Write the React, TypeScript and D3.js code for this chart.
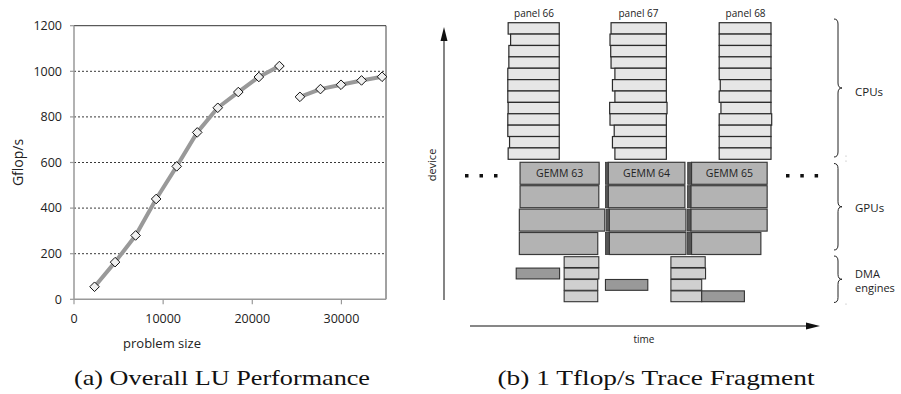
import React from 'react'
import * as d3 from 'd3'

// (a) LU performance: problem size vs Gflop/s, two runs
const sizesA = [2304, 4608, 6912, 9216, 11520, 13824, 16128, 18432, 20736, 23040]
const gflopsA = [55, 163, 280, 440, 583, 732, 840, 909, 975, 1023]
const sizesB = [25344, 27648, 29952, 32256, 34560]
const gflopsB = [888, 922, 941, 960, 976]
const yTicks = [0, 200, 400, 600, 800, 1000, 1200]
const xTicks = [0, 10000, 20000, 30000]

// (b) trace fragment, time in arbitrary units (0..100)
const panelNames = ['panel 66', 'panel 67', 'panel 68']
const cpuStarts = [
    [10.9, 11.6, 11.1, 11.1, 10.8, 10.8, 10.8, 10.9, 10.8, 10.8, 11.3, 10.9],
    [40.3, 40.0, 40.2, 40.3, 41.4, 40.7, 41.4, 39.9, 40.0, 41.2, 40.7, 41.4],
    [71.2, 71.2, 71.2, 71.2, 71.2, 71.5, 71.2, 71.7, 71.2, 71.2, 71.2, 71.2],
]
const cpuEnds = [
    [25.5, 25.5, 25.5, 25.5, 25.5, 25.5, 25.5, 25.5, 25.5, 25.5, 25.5, 25.5],
    [56.1, 56.1, 56.1, 56.1, 56.1, 56.1, 56.1, 56.3, 56.1, 56.1, 56.1, 56.1],
    [86.0, 86.0, 86.0, 86.0, 86.0, 86.0, 86.0, 86.0, 86.2, 86.0, 86.0, 86.0],
]
const gemmNames = ['GEMM 63', 'GEMM 64', 'GEMM 65']
// per GPU row: [start, end] for each GEMM
const gemmSpans = [
    [[14.3, 36.9], [39.5, 61.4], [63.3, 84.9]],
    [[14.3, 36.8], [39.5, 61.4], [63.1, 84.9]],
    [[14.1, 38.5], [39.8, 61.7], [63.1, 84.9]],
    [[14.1, 36.5], [39.8, 61.7], [63.3, 83.1]],
]
// short kernels before GEMM 64 / 65
const smallSpans = [
    [[38.7, 39.5], [62.2, 63.3]],
    [[38.7, 39.5], [62.1, 63.1]],
    [[38.9, 39.8], [62.1, 63.1]],
    [[38.7, 39.8], [62.1, 63.3]],
]
// DMA engines: light transfers and dark transfers, [row, start, end]
const dmaLight = [
    [0, 26.9, 36.8], [1, 26.9, 36.8], [2, 26.9, 36.5], [3, 26.9, 36.5],
    [0, 57.4, 67.2], [1, 57.4, 67.3], [2, 57.4, 66.2], [3, 57.4, 66.2],
]
const dmaDark = [
    [1, 13.2, 25.6], [2, 38.7, 50.8], [3, 66.2, 78.4],
]

const sans = "'Open Sans', 'DejaVu Sans', sans-serif"
const serif = "'Liberation Serif', 'DejaVu Serif', serif"

const bracePath = (x: number, y0: number, y1: number) => {
    const h = 4
    const w = 8
    const r = 5
    const ym = (y0 + y1) / 2
    return `M${x},${y0} Q${x + h},${y0} ${x + h},${y0 + r} L${x + h},${ym - r} Q${x + h},${ym} ${x + w},${ym} Q${x + h},${ym} ${x + h},${ym + r} L${x + h},${y1 - r} Q${x + h},${y1} ${x},${y1}`
}

const App: React.FC = () => {
    // ---- left chart scales
    const x = d3.scaleLinear().domain([0, 35000]).range([74, 386])
    const y = d3.scaleLinear().domain([0, 1200]).range([299.3, 25.7])
    const line = d3
        .line<[number, number]>()
        .x((d) => x(d[0]))
        .y((d) => y(d[1]))
    const serA = sizesA.map((s, i) => [s, gflopsA[i]] as [number, number])
    const serB = sizesB.map((s, i) => [s, gflopsB[i]] as [number, number])
    const diamond = (cx: number, cy: number, r = 4.8) =>
        `M${cx},${cy - r} L${cx + r},${cy} L${cx},${cy + r} L${cx - r},${cy} Z`

    // ---- right chart scales
    const t = d3.scaleLinear().domain([0, 100]).range([470, 820])
    const cpuBand = d3.scaleBand<number>().domain(d3.range(12)).range([22.7, 159.3])
    const gpuBand = d3.scaleBand<number>().domain(d3.range(4)).range([162.3, 254.5]).paddingInner(0.06)
    const dmaBand = d3.scaleBand<number>().domain(d3.range(4)).range([256.7, 301.7]).paddingInner(0.05)

    return (
        <svg
            width={901}
            height={394}
            style={{ position: 'absolute', left: 0, top: 0, background: '#fff' }}
        >
            {/* ================= (a) ================= */}
            <g>
                {yTicks.slice(1, -1).map((v) => (
                    <line key={v} x1={x(0)} x2={x(35000)} y1={y(v)} y2={y(v)}
                        stroke="#222" strokeWidth={0.9} strokeDasharray="2,2" />
                ))}
                {/* frame */}
                <line x1={x(0)} x2={x(35000)} y1={y(1200)} y2={y(1200)} stroke="#333" strokeWidth={1} />
                <line x1={x(35000)} x2={x(35000)} y1={y(1200)} y2={y(0)} stroke="#444" strokeWidth={1} />
                <line x1={x(0)} x2={x(0)} y1={y(1200)} y2={y(0)} stroke="#999" strokeWidth={1.5} />
                <line x1={x(0)} x2={x(35000)} y1={y(0)} y2={y(0)} stroke="#999" strokeWidth={1.5} />
                {yTicks.map((v) => (
                    <g key={v}>
                        <line x1={x(0) - 4} x2={x(0)} y1={y(v)} y2={y(v)} stroke="#999" strokeWidth={1.2} />
                        <text x={62} y={y(v)} dy="0.35em" textAnchor="end" fontFamily={sans} fontSize={12.5} fill="#222">{v}</text>
                    </g>
                ))}
                {xTicks.map((v) => (
                    <g key={v}>
                        <line x1={x(v)} x2={x(v)} y1={y(0)} y2={y(0) + 5} stroke="#999" strokeWidth={1.2} />
                        <text x={x(v)} y={319} dy="0.35em" textAnchor="middle" fontFamily={sans} fontSize={12.5} fill="#222">{v}</text>
                    </g>
                ))}
                <text transform={`translate(18,${y(600)}) rotate(-90)`} dy="0.35em" textAnchor="middle" fontFamily={sans} fontSize={14} fill="#222">Gflop/s</text>
                <text x={162} y={343} dy="0.35em" textAnchor="middle" fontFamily={sans} fontSize={13} fill="#222">problem size</text>

                <path d={line(serA) ?? ''} fill="none" stroke="#999" strokeWidth={4} strokeLinejoin="round" />
                <path d={line(serB) ?? ''} fill="none" stroke="#999" strokeWidth={4} strokeLinejoin="round" />
                {[...serA, ...serB].map((d, i) => (
                    <path key={i} d={diamond(x(d[0]), y(d[1]))} fill="#f0f0f0" stroke="#111" strokeWidth={1} />
                ))}
            </g>
            <text x={222} y={385} textAnchor="middle" fontFamily={serif} fontSize={21} fill="#111" textLength={296} lengthAdjust="spacingAndGlyphs">(a) Overall LU Performance</text>

            {/* ================= (b) ================= */}
            <g>
                {/* device axis */}
                <line x1={444} x2={444} y1={300} y2={38} stroke="#333" strokeWidth={1.2} />
                <path d="M444,27 L447.5,41 L440.5,41 Z" fill="#111" />
                <text transform="translate(432,165) rotate(-90)" dy="0.35em" textAnchor="middle" fontFamily={sans} fontSize={11} fill="#222">device</text>
                {/* time axis */}
                <line x1={t(0)} x2={808} y1={326} y2={326} stroke="#111" strokeWidth={1.2} />
                <path d="M820,326 L806,322.5 L806,329.5 Z" fill="#111" />
                <text x={644} y={339} dy="0.35em" textAnchor="middle" fontFamily={sans} fontSize={10} fill="#222">time</text>

                {/* CPU panels */}
                {panelNames.map((name, p) => (
                    <g key={name}>
                        <text x={t((d3.min(cpuStarts[p]) ?? 0) + (cpuEnds[p][0] - (d3.min(cpuStarts[p]) ?? 0)) / 2) + 0.5} y={13} dy="0.35em" textAnchor="middle" fontFamily={sans} fontSize={10} fill="#222">{name}</text>
                        {cpuStarts[p].map((s, r) => (
                            <rect key={r} x={t(s)} y={cpuBand(r)} width={t(cpuEnds[p][r]) - t(s)} height={cpuBand.bandwidth()}
                                fill="#e6e6e6" stroke="#2a2a2a" strokeWidth={1.2} />
                        ))}
                    </g>
                ))}

                {/* GPUs */}
                {gemmSpans.map((row, r) => (
                    <g key={r}>
                        {row.map((s, k) => (
                            <rect key={k} x={t(s[0])} y={gpuBand(r)} width={t(s[1]) - t(s[0])} height={gpuBand.bandwidth()}
                                fill="#b3b3b3" stroke="#3a3a3a" strokeWidth={1.2} />
                        ))}
                        {smallSpans[r].map((s, k) => (
                            <rect key={'s' + k} x={t(s[0])} y={gpuBand(r)} width={t(s[1]) - t(s[0])} height={gpuBand.bandwidth()}
                                fill="#555" stroke="#333" strokeWidth={0.8} />
                        ))}
                    </g>
                ))}
                {gemmNames.map((n, k) => (
                    <text key={n} x={(t(gemmSpans[0][k][0]) + t(gemmSpans[0][k][1])) / 2} y={(gpuBand(0) ?? 0) + gpuBand.bandwidth() / 2}
                        dy="0.35em" textAnchor="middle" fontFamily={sans} fontSize={10.5} fill="#222">{n}</text>
                ))}

                {/* DMA engines */}
                {dmaLight.map((d, i) => (
                    <rect key={'l' + i} x={t(d[1])} y={dmaBand(d[0])} width={t(d[2]) - t(d[1])} height={dmaBand.bandwidth()}
                        fill="#d0d0d0" stroke="#333" strokeWidth={1.1} />
                ))}
                {dmaDark.map((d, i) => (
                    <rect key={'d' + i} x={t(d[1])} y={dmaBand(d[0])} width={t(d[2]) - t(d[1])} height={dmaBand.bandwidth()}
                        fill="#999" stroke="#333" strokeWidth={1.1} />
                ))}

                {/* ellipses */}
                {[465, 479.5, 494, 786, 800.3, 814.6].map((cx) => (
                    <rect key={cx} x={cx} y={174} width={3.5} height={3.5} fill="#111" />
                ))}

                {/* braces */}
                <path d={bracePath(834, 19, 157)} fill="none" stroke="#222" strokeWidth={1} />
                <path d={bracePath(834, 163.5, 250)} fill="none" stroke="#222" strokeWidth={1} />
                <path d={bracePath(834, 256, 302.5)} fill="none" stroke="#222" strokeWidth={1} />
                <circle cx={846} cy={156} r={0.6} fill="#aaa" />
                <circle cx={846} cy={161} r={0.6} fill="#aaa" />
                <circle cx={846} cy={304} r={0.6} fill="#aaa" />
                <text x={855} y={92} dy="0.35em" fontFamily={sans} fontSize={11.5} fill="#222">CPUs</text>
                <text x={855} y={207.5} dy="0.35em" fontFamily={sans} fontSize={11.5} fill="#222">GPUs</text>
                <text x={855} y={274.5} dy="0.35em" fontFamily={sans} fontSize={11} fill="#222">DMA</text>
                <text x={855} y={288} dy="0.35em" fontFamily={sans} fontSize={11} fill="#222">engines</text>
            </g>
            <text x={656} y={385} textAnchor="middle" fontFamily={serif} fontSize={21} fill="#111" textLength={317} lengthAdjust="spacingAndGlyphs">(b) 1 Tflop/s Trace Fragment</text>
        </svg>
    )
}

export default App
